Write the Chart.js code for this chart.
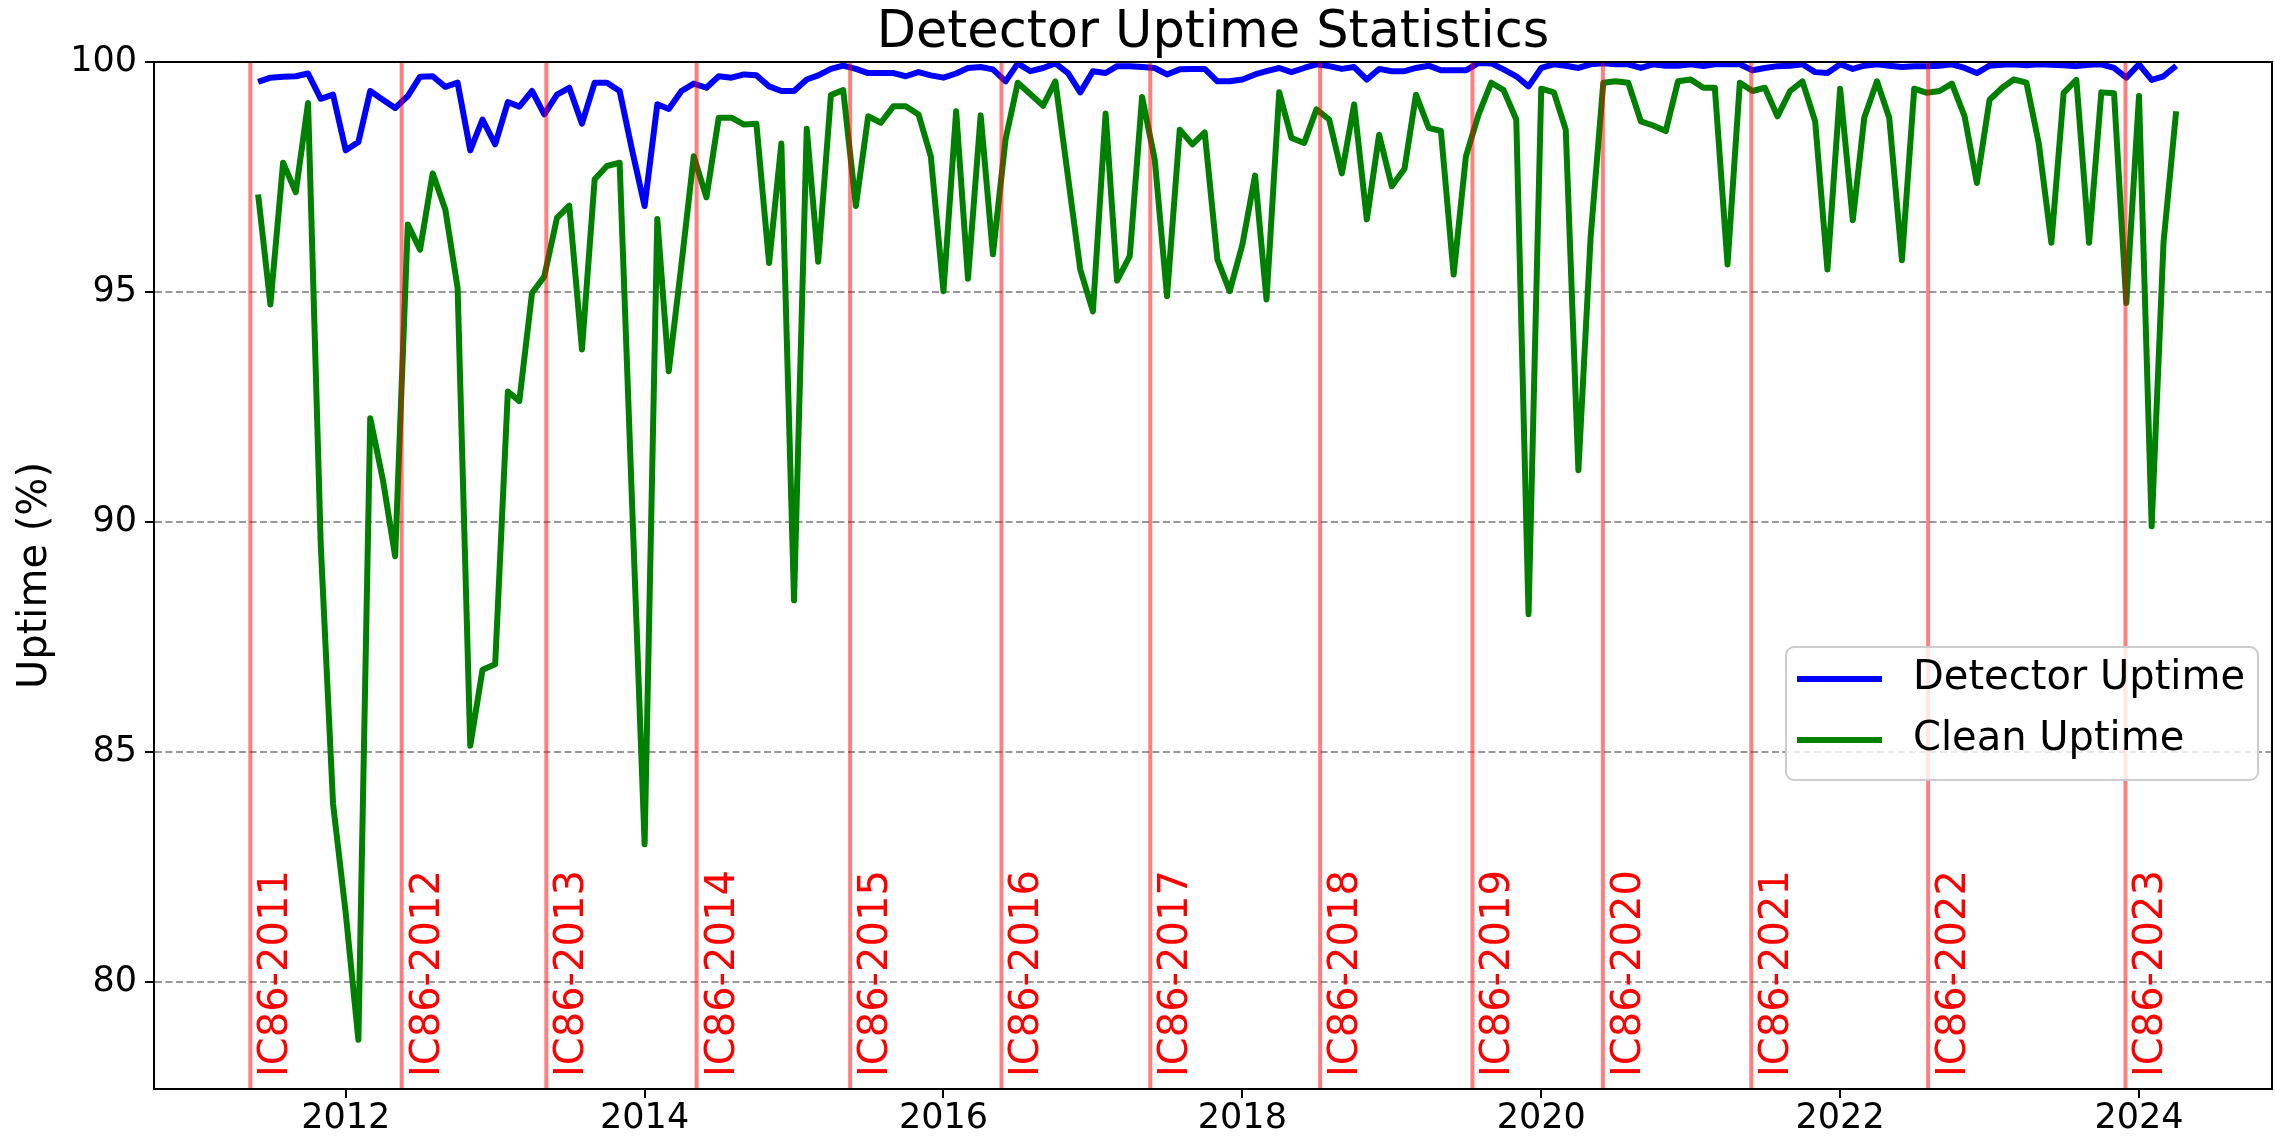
<!DOCTYPE html>
<html>
<head>
<meta charset="utf-8">
<title>Detector Uptime Statistics</title>
<script src="https://cdn.jsdelivr.net/npm/chart.js@4.4.1/dist/chart.umd.min.js"></script>
<style>
  html, body { margin: 0; padding: 0; background: #fff; }
  #wrap { width: 2275px; height: 1139px; }
</style>
</head>
<body>
<div id="wrap"><canvas id="uptimeChart" width="2275" height="1139"></canvas></div>
<script>
// monthly points, first one is June 2011
const firstMonth = [2011, 6];

// Detector uptime (%) per month, Jun 2011 .. Apr 2024
const detectorUptime = [
  99.57, 99.66, 99.68, 99.69, 99.75, 99.20, 99.29,
  98.08, 98.26, 99.37, 99.18, 99.00, 99.26, 99.68, 99.69, 99.46, 99.55, 98.08, 98.75,
  98.21, 99.13, 99.03, 99.37, 98.86, 99.29, 99.44, 98.66, 99.55, 99.55, 99.37, 98.10,
  96.87, 99.08, 98.98, 99.37, 99.53, 99.44, 99.69, 99.66, 99.73, 99.71, 99.47, 99.37,
  99.37, 99.62, 99.71, 99.85, 99.92, 99.85, 99.76, 99.76, 99.76, 99.69, 99.78, 99.71,
  99.66, 99.75, 99.87, 99.89, 99.84, 99.58, 99.97, 99.80, 99.87, 99.97, 99.76, 99.34,
  99.80, 99.76, 99.91, 99.91, 99.89, 99.87, 99.73, 99.84, 99.85, 99.85, 99.58, 99.58,
  99.62, 99.73, 99.80, 99.87, 99.78, 99.87, 99.95, 99.91, 99.85, 99.89, 99.62, 99.85,
  99.80, 99.80, 99.87, 99.92, 99.82, 99.82, 99.82, 99.98, 99.97, 99.84, 99.69, 99.47,
  99.87, 99.95, 99.92, 99.87, 99.95, 99.97, 99.95, 99.95, 99.87, 99.95, 99.92, 99.92,
  99.95, 99.91, 99.95, 99.95, 99.95, 99.82, 99.87, 99.91, 99.92, 99.95, 99.78, 99.76,
  99.95, 99.85, 99.92, 99.95, 99.92, 99.89, 99.91, 99.91, 99.92, 99.95, 99.87, 99.76,
  99.92, 99.94, 99.95, 99.93, 99.95, 99.94, 99.93, 99.91, 99.94, 99.95, 99.87, 99.66,
  99.95, 99.61, 99.69, 99.92
];

// Clean uptime (%) per month, same months
const cleanUptime = [
  97.12, 94.73, 97.81, 97.17, 99.11, 89.50, 83.88,
  81.50, 78.75, 92.26, 90.92, 89.26, 96.47, 95.92, 97.58, 96.79, 95.09, 85.14, 86.79,
  86.91, 92.84, 92.63, 94.98, 95.34, 96.61, 96.88, 93.75, 97.45, 97.74, 97.81, 90.50,
  83.00, 96.59, 93.28, 95.60, 97.95, 97.06, 98.79, 98.79, 98.64, 98.66, 95.63, 98.23,
  88.30, 98.55, 95.66, 99.28, 99.39, 96.87, 98.82, 98.68, 99.04, 99.04, 98.86, 97.95,
  95.02, 98.93, 95.29, 98.84, 95.82, 98.32, 99.55, 99.30, 99.05, 99.58, 97.50, 95.49,
  94.58, 98.88, 95.25, 95.78, 99.24, 97.88, 94.91, 98.53, 98.21, 98.47, 95.71, 95.02,
  96.03, 97.53, 94.84, 99.34, 98.35, 98.24, 98.97, 98.75, 97.58, 99.08, 96.58, 98.42,
  97.30, 97.68, 99.29, 98.57, 98.50, 95.38, 97.95, 98.86, 99.55, 99.39, 98.75, 88.00,
  99.42, 99.34, 98.53, 91.13, 96.20, 99.55, 99.58, 99.55, 98.71, 98.62, 98.50, 99.58,
  99.62, 99.44, 99.44, 95.60, 99.55, 99.37, 99.44, 98.82, 99.37, 99.58, 98.71, 95.49,
  99.42, 96.56, 98.79, 99.58, 98.79, 95.69, 99.42, 99.33, 99.37, 99.53, 98.82, 97.37,
  99.18, 99.44, 99.62, 99.55, 98.24, 96.07, 99.33, 99.61, 96.07, 99.34, 99.32, 94.76,
  99.26, 89.91, 96.07, 98.93
];

// season start markers
const seasonStarts = [
  "2011-05-13", "2012-05-17", "2013-05-06", "2014-05-08", "2015-05-18",
  "2016-05-22", "2017-05-21", "2018-07-10", "2019-07-17", "2020-05-31",
  "2021-05-29", "2022-08-04", "2023-11-29"
];
const seasonNames = [
  "IC86-2011", "IC86-2012", "IC86-2013", "IC86-2014", "IC86-2015",
  "IC86-2016", "IC86-2017", "IC86-2018", "IC86-2019", "IC86-2020",
  "IC86-2021", "IC86-2022", "IC86-2023"
];

const yearTicks = [2012, 2014, 2016, 2018, 2020, 2022, 2024];
const uptimeTicks = [80, 85, 90, 95, 100];

const FONT = "'DejaVu Sans'";

// date -> fractional year, so the linear x scale behaves like a date axis
function decimalYear(d) {
  const y = d.getUTCFullYear();
  const start = Date.UTC(y, 0, 1);
  const end = Date.UTC(y + 1, 0, 1);
  return y + (d.getTime() - start) / (end - start);
}

function monthDate(i) {
  const m = firstMonth[1] - 1 + i;
  return new Date(Date.UTC(firstMonth[0] + Math.floor(m / 12), m % 12, 1));
}

const monthX = detectorUptime.map((_, i) => decimalYear(monthDate(i)));

// red season lines + rotated labels, drawn over the curves
const seasonLines = {
  id: "seasonLines",
  afterDatasetsDraw(chart) {
    const { ctx, chartArea: area, scales: { x } } = chart;
    ctx.save();
    ctx.beginPath();
    ctx.rect(area.left, area.top, area.right - area.left, area.bottom - area.top);
    ctx.clip();
    seasonStarts.forEach((d, i) => {
      const px = x.getPixelForValue(decimalYear(new Date(d + "T00:00:00Z")));
      ctx.strokeStyle = "rgba(255, 0, 0, 0.5)";
      ctx.lineWidth = 4;
      ctx.beginPath();
      ctx.moveTo(px, area.top);
      ctx.lineTo(px, area.bottom);
      ctx.stroke();

      ctx.save();
      ctx.translate(px + 37, area.bottom - 12);
      ctx.rotate(-Math.PI / 2);
      ctx.fillStyle = "#ff0000";
      ctx.font = "40px " + FONT;
      ctx.textAlign = "left";
      ctx.textBaseline = "alphabetic";
      ctx.fillText(seasonNames[i], 0, 0);
      ctx.restore();
    });
    ctx.restore();
  }
};

// matplotlib style box around the axes
const axesFrame = {
  id: "axesFrame",
  afterDatasetsDraw(chart) {
    const { ctx, chartArea: a } = chart;
    ctx.save();
    ctx.strokeStyle = "#000";
    ctx.lineWidth = 2;
    ctx.strokeRect(a.left, a.top, a.right - a.left, a.bottom - a.top);
    ctx.restore();
  }
};

const legendBox = {
  id: "legendBox",
  afterDraw(chart) {
    const { ctx } = chart;
    const bx = 1786, by = 647, bw = 472, bh = 133;
    ctx.save();
    ctx.beginPath();
    ctx.roundRect(bx, by, bw, bh, 8);
    ctx.fillStyle = "rgba(255, 255, 255, 0.8)";
    ctx.fill();
    ctx.strokeStyle = "#cccccc";
    ctx.lineWidth = 2;
    ctx.stroke();

    chart.data.datasets.forEach((ds, i) => {
      const y = by + 32 + i * 61;
      ctx.strokeStyle = ds.borderColor;
      ctx.lineWidth = 6;
      ctx.beginPath();
      ctx.moveTo(bx + 11, y);
      ctx.lineTo(bx + 96, y);
      ctx.stroke();
      ctx.fillStyle = "#000";
      ctx.font = "40px " + FONT;
      ctx.textAlign = "left";
      ctx.textBaseline = "middle";
      ctx.fillText(ds.label, bx + 127, y);
    });
    ctx.restore();
  }
};

const plotTitle = {
  id: "plotTitle",
  afterDraw(chart) {
    const { ctx, chartArea: a } = chart;
    ctx.save();
    ctx.fillStyle = "#000";
    ctx.font = "51px " + FONT;
    ctx.textAlign = "center";
    ctx.textBaseline = "alphabetic";
    ctx.fillText("Detector Uptime Statistics", (a.left + a.right) / 2, a.top - 15);
    ctx.restore();
  }
};

Chart.defaults.font.family = FONT;
Chart.defaults.color = "#000";

new Chart(document.getElementById("uptimeChart"), {
  type: "line",
  data: {
    datasets: [
      {
        label: "Detector Uptime",
        data: detectorUptime.map((v, i) => ({ x: monthX[i], y: v })),
        borderColor: "#0000ff",
        borderWidth: 6,
        pointRadius: 0,
        tension: 0,
        borderJoinStyle: "round",
        clip: 0
      },
      {
        label: "Clean Uptime",
        data: cleanUptime.map((v, i) => ({ x: monthX[i], y: v })),
        borderColor: "#008000",
        borderWidth: 6,
        pointRadius: 0,
        tension: 0,
        borderJoinStyle: "round",
        clip: 0
      }
    ]
  },
  options: {
    responsive: false,
    animation: false,
    devicePixelRatio: 1,
    layout: { padding: { top: 62, right: 3, left: 0, bottom: 0 } },
    plugins: {
      legend: { display: false },
      tooltip: { enabled: false },
      title: { display: false }
    },
    scales: {
      x: {
        type: "linear",
        min: 2010.717,
        max: 2024.89,
        afterFit: (s) => { s.height = 50; },
        afterBuildTicks: (s) => { s.ticks = yearTicks.map((v) => ({ value: v })); },
        ticks: {
          callback: (v) => String(v),
          font: { size: 35 },
          color: "#000",
          padding: 0,
          maxRotation: 0,
          autoSkip: false
        },
        grid: { drawOnChartArea: false, color: "#000", lineWidth: 2, tickLength: 9 },
        border: { color: "#000", width: 2 }
      },
      y: {
        min: 77.68,
        max: 100,
        afterFit: (s) => { s.width = 154; },
        afterBuildTicks: (s) => { s.ticks = uptimeTicks.map((v) => ({ value: v })); },
        ticks: {
          callback: (v) => String(v),
          font: { size: 35 },
          color: "#000",
          padding: 8
        },
        grid: {
          color: "rgba(128, 128, 128, 0.8)",
          lineWidth: 2,
          tickColor: "#000",
          tickWidth: 2,
          tickLength: 9
        },
        border: { color: "#000", width: 2, dash: [7, 3.5] },
        title: {
          display: true,
          text: "Uptime (%)",
          font: { size: 40 },
          color: "#000",
          padding: { top: 12, bottom: 0 }
        }
      }
    }
  },
  plugins: [seasonLines, axesFrame, legendBox, plotTitle]
});
</script>
</body>
</html>
